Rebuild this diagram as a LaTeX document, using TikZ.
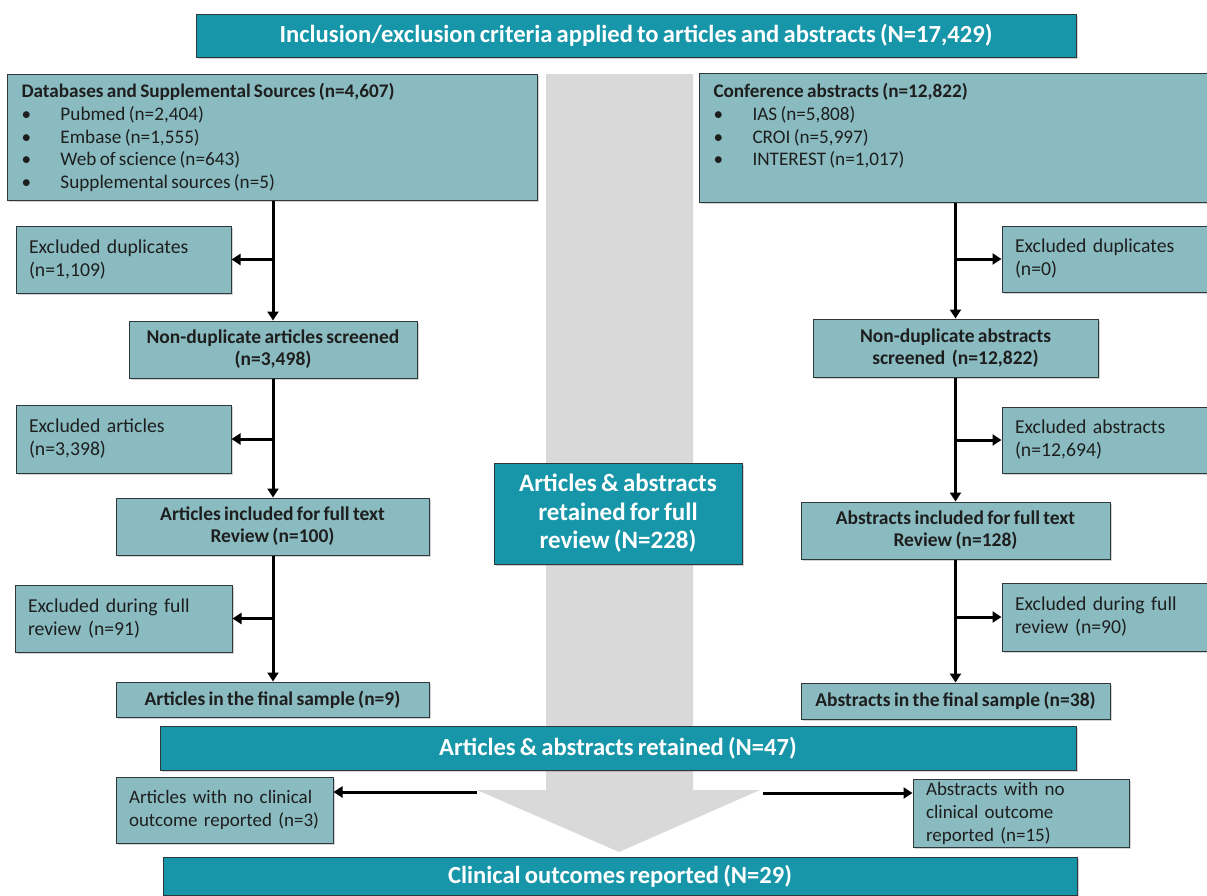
\documentclass[tikz,border=0pt]{standalone}
\usepackage{fontspec}
\setmainfont{Carlito}[WordSpace=0.75]
\usetikzlibrary{arrows.meta,shadows}
\definecolor{bannerteal}{RGB}{24,150,169}
\definecolor{boxfill}{RGB}{137,187,192}
\definecolor{edgecol}{RGB}{45,55,60}
\definecolor{grayarrow}{RGB}{217,217,217}
\definecolor{boxtext}{RGB}{30,30,30}
\tikzset{
  shade/.style={drop shadow={shadow xshift=1.5pt,shadow yshift=-1.5pt,opacity=0.35}},
  banner/.style={draw=edgecol, line width=1pt, fill=bannerteal, text=white, inner sep=0pt, shade,
    font=\fontsize{24.6}{28}\selectfont\bfseries},
  box/.style={draw=edgecol, line width=1pt, fill=boxfill, text=boxtext, inner sep=0pt, shade},
  exbox/.style={box, align=left, inner xsep=13pt, font=\fontsize{19.7}{23}\selectfont},
  nobox/.style={box, align=left, inner xsep=13pt, font=\fontsize{19}{23}\selectfont},
  stepbox/.style={box, align=center, font=\fontsize{19.5}{22}\selectfont\bfseries},
  midbox/.style={banner, align=center, font=\fontsize{25}{28.5}\selectfont\bfseries},
  conn/.style={line width=3pt, -{Triangle[length=9pt,width=11pt]}},
}
\newcommand{\bul}{\makebox[39pt][l]{•}}
\begin{document}
\begin{tikzpicture}[x=1pt,y=-1pt]
\useasboundingbox (0,0) rectangle (1207,895);
% big gray arrow
\fill[grayarrow] (546,74) -- (693,74) -- (693,790) -- (760,790) -- (619,852) -- (477,790) -- (546,790) -- cycle;

% top banner
\node[banner, minimum width=880pt, minimum height=43pt] (top) at (636,35.5)
  {Inclusion/exclusion criteria applied to articles and abstracts (N=17,429)};

% left source box
\node[box, anchor=north west] (L0) at (7,74) {\begin{minipage}[c][126pt][t]{530pt}\fontsize{19.2}{22.75}\selectfont\leftskip=14pt\relax
\rule{0pt}{23pt}{\bfseries Databases and Supplemental Sources (n=4,607)}\\
\bul Pubmed (n=2,404)\\
\bul Embase (n=1,555)\\
\bul Web of science (n=643)\\
\bul Supplemental sources (n=5)
\end{minipage}};

% right source box
\node[box, anchor=north west] (R0) at (699,73) {\begin{minipage}[c][129pt][t]{515pt}\fontsize{19.2}{22.75}\selectfont\leftskip=14pt\relax
\rule{0pt}{24pt}{\bfseries Conference abstracts (n=12,822)}\\
\bul IAS (n=5,808)\\
\bul CROI (n=5,997)\\
\bul INTEREST (n=1,017)
\end{minipage}};

% left column
\node[exbox, text width=189pt, minimum height=67pt] (Lx1) at (123.5,259.5) {Excluded duplicates\\(n=1,109)};
\node[stepbox, minimum width=288pt, minimum height=57pt] (Ls1) at (273,349.5) {Non-duplicate articles screened\\(n=3,498)};
\node[exbox, text width=189pt, minimum height=68pt] (Lx2) at (123.5,439) {Excluded articles\\(n=3,398)};
\node[stepbox, minimum width=313pt, minimum height=57pt] (Ls2) at (272.5,526.5) {Articles included for full text\\Review (n=100)};
\node[exbox, text width=191pt, minimum height=67pt] (Lx3) at (123.5,618.5) {Excluded during full\\review (n=91)};
\node[stepbox, minimum width=313pt, minimum height=35pt] (Ls3) at (272.5,699.5) {Articles in the final sample (n=9)};

% right column
\node[exbox, text width=184pt, minimum height=66pt] (Rx1) at (1107,259) {Excluded duplicates\\(n=0)};
\node[stepbox, minimum width=285pt, minimum height=58pt] (Rs1) at (955.5,348) {Non-duplicate abstracts\\screened~ (n=12,822)};
\node[exbox, text width=184pt, minimum height=66pt] (Rx2) at (1107,440) {Excluded abstracts\\(n=12,694)};
\node[stepbox, minimum width=309pt, minimum height=57pt] (Rs2) at (955.5,530.5) {Abstracts included for full text\\Review (n=128)};
\node[exbox, text width=184pt, minimum height=68pt] (Rx3) at (1107,617) {Excluded during full\\review (n=90)};
\node[stepbox, minimum width=309pt, minimum height=36pt] (Rs3) at (955.5,701) {Abstracts in the final sample (n=38)};

% center box
\node[midbox, minimum width=248pt, minimum height=101pt] (mid) at (618,513.5) {Articles \& abstracts\\retained for full\\review (N=228)};

% bottom banners and boxes
\node[banner, minimum width=916pt, minimum height=44pt] (ret) at (618,748) {Articles \& abstracts retained (N=47)};
\node[nobox, text width=191pt, minimum height=66pt] (Lno) at (224.5,810) {Articles with no clinical\\outcome reported (n=3)};
\node[nobox, text width=190pt, minimum height=68pt] (Rno) at (1021,813) {Abstracts with no\\clinical outcome\\reported (n=15)};
\node[banner, minimum width=914pt, minimum height=38pt] (clin) at (620,876) {Clinical outcomes reported (N=29)};

% left connectors
\draw[conn] (Ls1.north |- L0.south) -- (Ls1.north);
\draw[conn] (Ls1.north |- Lx1.east) -- (Lx1.east);
\draw[conn] (Ls1.south) -- (Ls1.south |- Ls2.north);
\draw[conn] (Ls1.south |- Lx2.east) -- (Lx2.east);
\draw[conn] (Ls1.south |- Ls2.south) -- (Ls1.south |- Ls3.north);
\draw[conn] (Ls1.south |- Lx3.east) -- (Lx3.east);

% right connectors
\draw[conn] (Rs1.north |- R0.south) -- (Rs1.north);
\draw[conn] (Rs1.north |- Rx1.west) -- (Rx1.west);
\draw[conn] (Rs1.south) -- (Rs1.south |- Rs2.north);
\draw[conn] (Rs1.south |- Rx2.west) -- (Rx2.west);
\draw[conn] (Rs1.south |- Rs2.south) -- (Rs1.south |- Rs3.north);
\draw[conn] (Rs1.south |- Rx3.west) -- (Rx3.west);

% bottom connectors
\coordinate (lb) at (477,792);
\coordinate (rb) at (763,793);
\draw[conn] (lb) -- (lb -| Lno.east);
\draw[conn] (rb) -- (rb -| Rno.west);
\end{tikzpicture}
\end{document}
